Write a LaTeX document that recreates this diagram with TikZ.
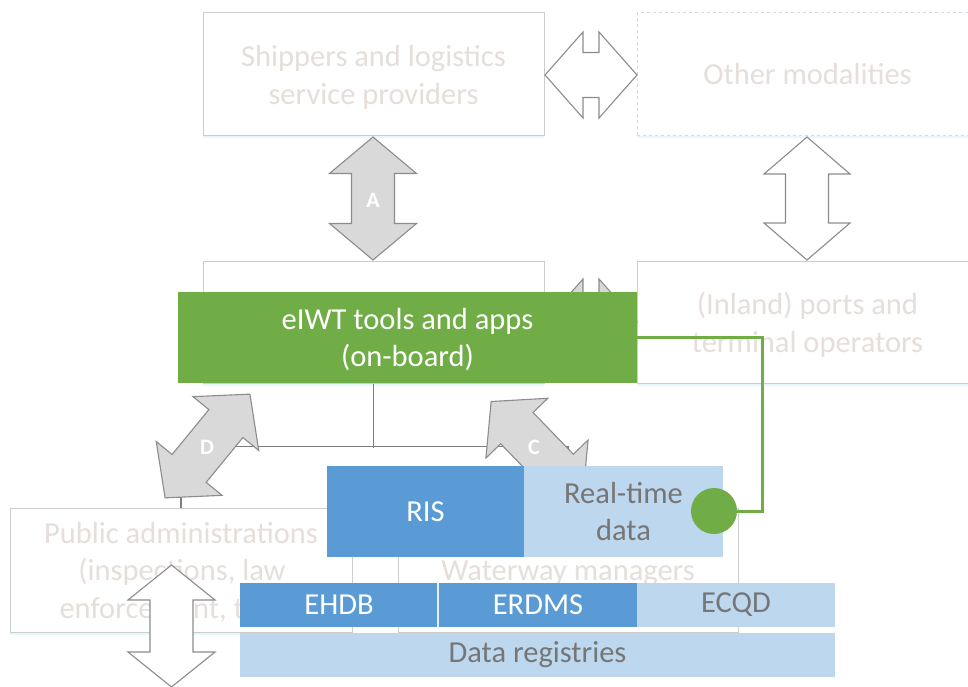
\documentclass[tikz,border=0pt]{standalone}
\usepackage{fontspec}
\setmainfont{Carlito}
\usetikzlibrary{shadows}
\definecolor{boxtext}{RGB}{230,222,218}
\definecolor{boxline}{RGB}{205,205,205}
\definecolor{dashline}{RGB}{210,218,228}
\definecolor{eiwt}{RGB}{112,173,71}
\definecolor{risblue}{RGB}{91,155,213}
\definecolor{lightblue}{RGB}{189,215,238}
\definecolor{arrowgray}{RGB}{217,217,217}
\definecolor{arrowline}{RGB}{140,140,140}
\definecolor{darktext}{RGB}{118,118,118}
\newcommand{\dblarrowshape}[7]{%
  \begin{scope}[shift={#2}, rotate=#3]
    \draw[#1] (-#4,0) -- (-#4+#7,#5) -- (-#4+#7,#6) -- (#4-#7,#6) -- (#4-#7,#5) -- (#4,0)
      -- (#4-#7,-#5) -- (#4-#7,-#6) -- (-#4+#7,-#6) -- (-#4+#7,-#5) -- cycle;
  \end{scope}}
\begin{document}
\begin{tikzpicture}[x=1pt,y=-1pt,
  txt/.style={font=\fontsize{30.5}{37.8}\selectfont, align=center},
  plainbox/.style={txt, draw=boxline, line width=1pt, fill=white, text=boxtext, inner sep=0pt,
    drop shadow={shadow xshift=0pt, shadow yshift=-2.5pt, opacity=0.25, fill=blue!30!cyan!40}},
  dashbox/.style={plainbox, draw=dashline, dashed},
  greenbox/.style={txt, fill=eiwt, text=white, inner sep=0pt},
  bluebox/.style={txt, fill=risblue, text=white, inner sep=0pt},
  lbluebox/.style={txt, fill=lightblue, text=darktext, inner sep=0pt},
  whitearrow/.style={draw=arrowline, line width=1.1pt, fill=white, line join=miter},
  grayarrow/.style={draw=arrowline, line width=1.1pt, fill=arrowgray, line join=miter},
  letter/.style={font=\fontsize{22}{26}\selectfont\bfseries, text=white},
  conn/.style={draw=arrowline!90!black, line width=1.2pt},
  gline/.style={draw=eiwt, line width=3pt}
]
\useasboundingbox (0,0) rectangle (968,687);
\fill[white] (0,0) rectangle (968,687);

% background boxes
\node[plainbox, minimum width=341pt, minimum height=123pt] (ship) at (373.5,74.5) {};
\node[txt, text=boxtext] (shipt) at ([yshift=-3pt]ship.center) {Shippers and logistics\\service providers};
\node[dashbox, minimum width=341pt, minimum height=123pt] (other) at (807.5,74.5) {Other modalities};
\node[plainbox, minimum width=341pt, minimum height=122pt] (mid) at (373.5,322) {};
\node[plainbox, minimum width=341pt, minimum height=122pt] (ports) at (807.5,322) {};
\node[txt, text=boxtext] (portst) at ([yshift=-3pt]ports.center) {(Inland) ports and\\terminal operators};
\node[plainbox, minimum width=342pt, minimum height=124pt] (pub) at (181,570) {};
\node[txt, text=boxtext, anchor=base] (pub1) at (181,543) {Public administrations};
\node[txt, text=boxtext, anchor=base] (pub2) at (182,580.5) {(inspections, law};
\node[txt, text=boxtext, anchor=base west] (pub3) at (56,618) {enforcement, t};
\node[plainbox, minimum width=340pt, minimum height=124pt] (ww) at (568,570) {};
\node[txt, text=boxtext] (wwt) at ([yshift=-3pt]ww.center) {Waterway managers};

% org connectors
\draw[conn] (mid.south) -- ++(0,64);
\draw[conn] (pub.north) -- ++(0,-61) -| (ww.north);

% block arrows
\dblarrowshape{whitearrow}{(591,75)}{0}{46}{43}{22.5}{38}
\dblarrowshape{grayarrow}{(591,322)}{0}{46}{43}{22.5}{38}
\dblarrowshape{grayarrow}{(373,198.5)}{90}{61.5}{43.5}{21.5}{36.5}
\dblarrowshape{whitearrow}{(807,198.5)}{90}{61.5}{43}{21.5}{37}
\dblarrowshape{grayarrow}{(207.5,446)}{50.7}{67}{42.5}{22}{38}
\dblarrowshape{grayarrow}{(537,449)}{-46}{66}{43}{22.5}{37}
\dblarrowshape{whitearrow}{(171.5,626)}{90}{61}{43.5}{21.5}{35}
\node[letter] (la) at (373,200) {A};
\node[letter] (ld) at (207,447) {D};
\node[letter] (lc) at (534,447) {C};

% eIWT
\node[greenbox, minimum width=459pt, minimum height=91pt] (eiwt) at (407.5,337.5) {};
\node[txt, text=white] (eiwtt) at ([yshift=-2pt]eiwt.center) {eIWT tools and apps\\(on-board)};

% RIS and real-time
\node[bluebox, minimum width=197pt, minimum height=91pt] (ris) at (425.5,511.5) {RIS};
\node[lbluebox, minimum width=199pt, minimum height=91pt] (rt) at (623.5,511.5) {Real-time\\data};

% registries
\node[bluebox, minimum width=198pt, minimum height=44pt] (ehdb) at (339,605) {EHDB};
\node[bluebox, minimum width=198pt, minimum height=44pt] (erdms) at (538,605) {ERDMS};
\node[lbluebox, minimum width=198pt, minimum height=44pt] (ecqd) at (736,605) {ECQD};
\draw[white!85!risblue, line width=1.5pt] (ehdb.north east) -- (ehdb.south east);
\node[lbluebox, minimum width=595pt, minimum height=44pt] (reg) at (537.5,655) {Data registries};

% green link
\node[circle, fill=eiwt, minimum size=46pt, inner sep=0pt] (dot) at (714,511) {};
\coordinate (gc) at (762,337.5);
\draw[gline] (eiwt.east) -- (gc) |- (dot.east);
\end{tikzpicture}
\end{document}
